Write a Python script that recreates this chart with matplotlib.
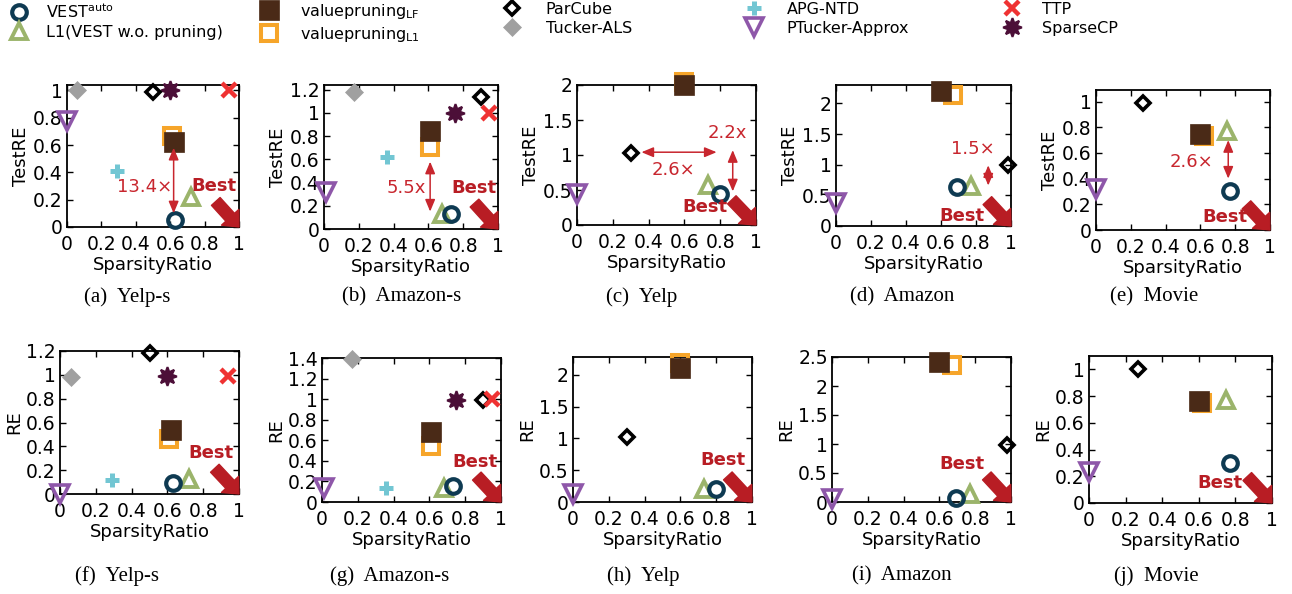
import numpy as np
import matplotlib
matplotlib.use('Agg')
import matplotlib.pyplot as plt
from matplotlib.lines import Line2D
from matplotlib.ticker import FuncFormatter

nan = np.nan

# ---------------- data ----------------
datasets = ['Yelp-s', 'Amazon-s', 'Yelp', 'Amazon', 'Movie']
letters_top = ['a', 'b', 'c', 'd', 'e']
letters_bot = ['f', 'g', 'h', 'i', 'j']

# sparsity ratio (x) per method, per dataset
sr_vest     = [0.63, 0.73, 0.80, 0.69, 0.77]
sr_l1       = [0.72, 0.68, 0.73, 0.77, 0.75]
sr_lf       = [0.62, 0.61, 0.60, 0.60, 0.60]
sr_l1prune  = [0.61, 0.61, 0.60, 0.67, 0.62]
sr_parcube  = [0.50, 0.90, 0.30, 0.98, 0.27]
sr_tucker   = [0.06, 0.17, nan, nan, nan]
sr_apg      = [0.29, 0.36, nan, nan, nan]
sr_ptucker  = [0.00, 0.01, 0.00, 0.00, 0.00]
sr_ttp      = [0.94, 0.95, nan, nan, nan]
sr_sparsecp = [0.60, 0.75, nan, nan, nan]

# TestRE (top row)
test_vest     = [0.05, 0.13, 0.45, 0.64, 0.30]
test_l1       = [0.22, 0.13, 0.57, 0.66, 0.77]
test_lf       = [0.62, 0.84, 2.00, 2.20, 0.75]
test_l1prune  = [0.67, 0.71, 2.05, 2.13, 0.73]
test_parcube  = [0.99, 1.14, 1.03, 0.99, 0.99]
test_tucker   = [1.00, 1.18, nan, nan, nan]
test_apg      = [0.41, 0.62, nan, nan, nan]
test_ptucker  = [0.78, 0.32, 0.45, 0.37, 0.32]
test_ttp      = [1.00, 1.00, nan, nan, nan]
test_sparsecp = [1.00, 1.00, nan, nan, nan]

# RE (bottom row)
re_vest     = [0.09, 0.16, 0.21, 0.07, 0.30]
re_l1       = [0.13, 0.14, 0.21, 0.14, 0.77]
re_lf       = [0.54, 0.68, 2.11, 2.42, 0.76]
re_l1prune  = [0.46, 0.54, 2.18, 2.36, 0.75]
re_parcube  = [1.18, 0.99, 1.02, 0.99, 1.00]
re_tucker   = [0.98, 1.39, nan, nan, nan]
re_apg      = [0.12, 0.14, nan, nan, nan]
re_ptucker  = [0.00, 0.14, 0.12, 0.05, 0.23]
re_ttp      = [0.99, 1.00, nan, nan, nan]
re_sparsecp = [0.99, 0.99, nan, nan, nan]

x_ticks = [0, 0.2, 0.4, 0.6, 0.8, 1]
top_ymax = [1.04, 1.24, 2.0, 2.3, 1.09]
bot_ymax = [1.2, 1.4, 2.28, 2.5, 1.1]
top_ystep = [0.2, 0.2, 0.5, 0.5, 0.2]
bot_ystep = [0.2, 0.2, 0.5, 0.5, 0.2]

# ratio annotations (top row): (x0, y0, x1, y1, label, label_x, label_y)
ratio_notes = [
    [(0.62, 0.58, 0.62, 0.10, '13.4×', 0.45, 0.29)],
    [(0.61, 0.58, 0.61, 0.15, '5.5x', 0.47, 0.35)],
    [(0.36, 1.04, 0.78, 1.04, '2.6×', 0.54, 0.79),
     (0.87, 1.07, 0.87, 0.48, '2.2x', 0.84, 1.31)],
    [(0.87, 0.99, 0.87, 0.66, '1.5×', 0.78, 1.26)],
    [(0.76, 0.70, 0.76, 0.40, '2.6×', 0.55, 0.53)],
]
best_top = [(0.855, 0.30), (0.86, 0.35), (0.715, 0.25), (0.72, 0.17), (0.74, 0.10)]
best_bot = [(0.845, 0.34), (0.856, 0.39), (0.84, 0.66), (0.726, 0.66), (0.713, 0.15)]

# ---------------- styles ----------------
labels = {
    'vest': 'VEST$^{\\mathrm{auto}}$',
    'l1': 'L1(VEST w.o. pruning)',
    'lf': 'valuepruning$_{\\mathrm{LF}}$',
    'l1prune': 'valuepruning$_{\\mathrm{L1}}$',
    'parcube': 'ParCube',
    'tucker': 'Tucker-ALS',
    'apg': 'APG-NTD',
    'ptucker': 'PTucker-Approx',
    'ttp': 'TTP',
    'sparsecp': 'SparseCP',
}
styles = {
    'vest': dict(marker='o', ms=10.5, mfc='none', mec='#0e3a52', mew=3),
    'l1': dict(marker='^', ms=12, mfc='none', mec='#9bb46b', mew=2.8),
    'lf': dict(marker='s', ms=14.5, mfc='#4a2a17', mec='#4a2a17', mew=0.5),
    'l1prune': dict(marker='s', ms=11.5, mfc='none', mec='#f6a52a', mew=2.9),
    'parcube': dict(marker='D', ms=7.5, mfc='none', mec='black', mew=2.6),
    'tucker': dict(marker='D', ms=9.5, mfc='#a0a0a0', mec='#a0a0a0', mew=0.5),
    'apg': dict(marker='+', ms=10, mec='#72c6d3', mew=3.6),
    'ptucker': dict(marker='v', ms=13, mfc='none', mec='#8e57a9', mew=2.6),
    'ttp': dict(marker='x', ms=10.5, mec='#ef3232', mew=3.2),
    'sparsecp': dict(marker=(8, 1, 0), ms=13.5, mfc='#4c0f38', mec='#4c0f38', mew=1.5),
}
draw_order = ['l1prune', 'lf', 'tucker', 'apg', 'ptucker', 'sparsecp', 'parcube', 'ttp', 'l1', 'vest']

sr = dict(vest=sr_vest, l1=sr_l1, lf=sr_lf, l1prune=sr_l1prune, parcube=sr_parcube,
          tucker=sr_tucker, apg=sr_apg, ptucker=sr_ptucker, ttp=sr_ttp, sparsecp=sr_sparsecp)
test = dict(vest=test_vest, l1=test_l1, lf=test_lf, l1prune=test_l1prune, parcube=test_parcube,
            tucker=test_tucker, apg=test_apg, ptucker=test_ptucker, ttp=test_ttp, sparsecp=test_sparsecp)
re_ = dict(vest=re_vest, l1=re_l1, lf=re_lf, l1prune=re_l1prune, parcube=re_parcube,
           tucker=re_tucker, apg=re_apg, ptucker=re_ptucker, ttp=re_ttp, sparsecp=re_sparsecp)

RED_ARROW = '#b81d24'
RED_TEXT = '#c8262e'
FS = 13
TFS = 13.5

plt.rcParams['font.family'] = ['DejaVu Sans']
plt.rcParams['mathtext.fontset'] = 'dejavusans'

W, H = 1292, 594
fig = plt.figure(figsize=(W / 100, H / 100), dpi=100)

# layout boxes (left, top, right, bottom) in pixels
top_boxes = [(67, 85, 239, 227), (324, 85, 498, 229), (577, 85, 756, 225),
             (836, 85, 1011, 226), (1096, 90, 1270, 230)]
bot_boxes = [(60, 351, 239, 494), (322, 358, 501, 502), (573, 357, 752, 502),
             (832, 357, 1011, 502), (1089, 356, 1272, 503)]
cap_top = [127, 402, 642, 902, 1154]
cap_bot = [117, 390, 643, 902, 1156]


def add_ax(box):
    l, t, r, b = box
    return fig.add_axes([l / W, 1 - b / H, (r - l) / W, (b - t) / H])


fmt = FuncFormatter(lambda v, p: '%g' % round(v, 6))


def draw_panel(ax, i, vals, ymax, ystep, ylabel, best_xy):
    for m in draw_order:
        x, y = sr[m][i], vals[m][i]
        if np.isnan(x) or np.isnan(y):
            continue
        ax.plot([x], [y], linestyle='none', clip_on=False, zorder=3, **styles[m])
    ax.set_xlim(0, 1)
    ax.set_ylim(0, ymax)
    ax.set_xticks(x_ticks)
    ax.set_yticks(np.arange(0, ymax + 1e-9, ystep))
    ax.xaxis.set_major_formatter(fmt)
    ax.yaxis.set_major_formatter(fmt)
    ax.tick_params(direction='in', length=4.5, width=1, top=True, right=True,
                   labelsize=TFS)
    ax.tick_params(axis='x', pad=6)
    ax.tick_params(axis='y', pad=3)
    for s in ax.spines.values():
        s.set_linewidth(1.3)
    ax.set_xlabel('SparsityRatio', fontsize=FS, labelpad=1)
    ax.set_ylabel(ylabel, fontsize=FS, labelpad=2)
    # Best arrow
    ax.annotate('', xy=(1.0, 0.0), xytext=(0.865, 0.18), xycoords='axes fraction',
                textcoords='axes fraction', annotation_clip=False,
                arrowprops=dict(arrowstyle='simple,head_length=0.45,head_width=0.8,tail_width=0.4',
                                color=RED_ARROW, shrinkA=0, shrinkB=0, mutation_scale=21),
                zorder=5)
    ax.text(best_xy[0], best_xy[1], 'Best', transform=ax.transData, color=RED_ARROW,
            fontsize=FS, fontweight='bold', ha='center', va='center', zorder=6)


for i in range(5):
    ax = add_ax(top_boxes[i])
    draw_panel(ax, i, test, top_ymax[i], top_ystep[i], 'TestRE', best_top[i])
    for (x0, y0, x1, y1, lab, lx, ly) in ratio_notes[i]:
        ax.annotate('', xy=(x1, y1), xytext=(x0, y0),
                    arrowprops=dict(arrowstyle='<|-|>,head_length=0.6,head_width=0.25',
                                    color=RED_TEXT, lw=1.1, shrinkA=0, shrinkB=0,
                                    mutation_scale=12), zorder=4)
        ax.text(lx, ly, lab, color=RED_TEXT, fontsize=FS, ha='center', va='center', zorder=6)
    fig.text(cap_top[i] / W, 1 - 297 / H, '(%s)  %s' % (letters_top[i], datasets[i]),
             ha='center', va='center', family='Liberation Serif', fontsize=15)

for i in range(5):
    ax = add_ax(bot_boxes[i])
    draw_panel(ax, i, re_, bot_ymax[i], bot_ystep[i], 'RE', best_bot[i])
    fig.text(cap_bot[i] / W, 1 - 576 / H, '(%s)  %s' % (letters_bot[i], datasets[i]),
             ha='center', va='center', family='Liberation Serif', fontsize=15)

# ---------------- legend (5 columns of 2) ----------------
columns = [['vest', 'l1'], ['lf', 'l1prune'], ['parcube', 'tucker'], ['apg', 'ptucker'], ['ttp', 'sparsecp']]
col_marker_x = [19, 269, 512, 754, 1012]
col_textpad = [1.2, 1.45, 1.6, 1.55, 1.4]
LFS = 11.5
for c, ms_ in enumerate(columns):
    handles = [Line2D([], [], linestyle='none', **styles[m]) for m in ms_]
    hl_px = LFS * 100 / 72 * 1.0
    fig.legend(handles=handles, labels=[labels[m] for m in ms_], loc='upper left',
               bbox_to_anchor=((col_marker_x[c] - hl_px / 2) / W, 1 - 2 / H),
               frameon=False, fontsize=LFS, handlelength=1.0,
               handletextpad=col_textpad[c], borderpad=0, borderaxespad=0,
               labelspacing=0.25)

fig.savefig('out.png', dpi=100)
